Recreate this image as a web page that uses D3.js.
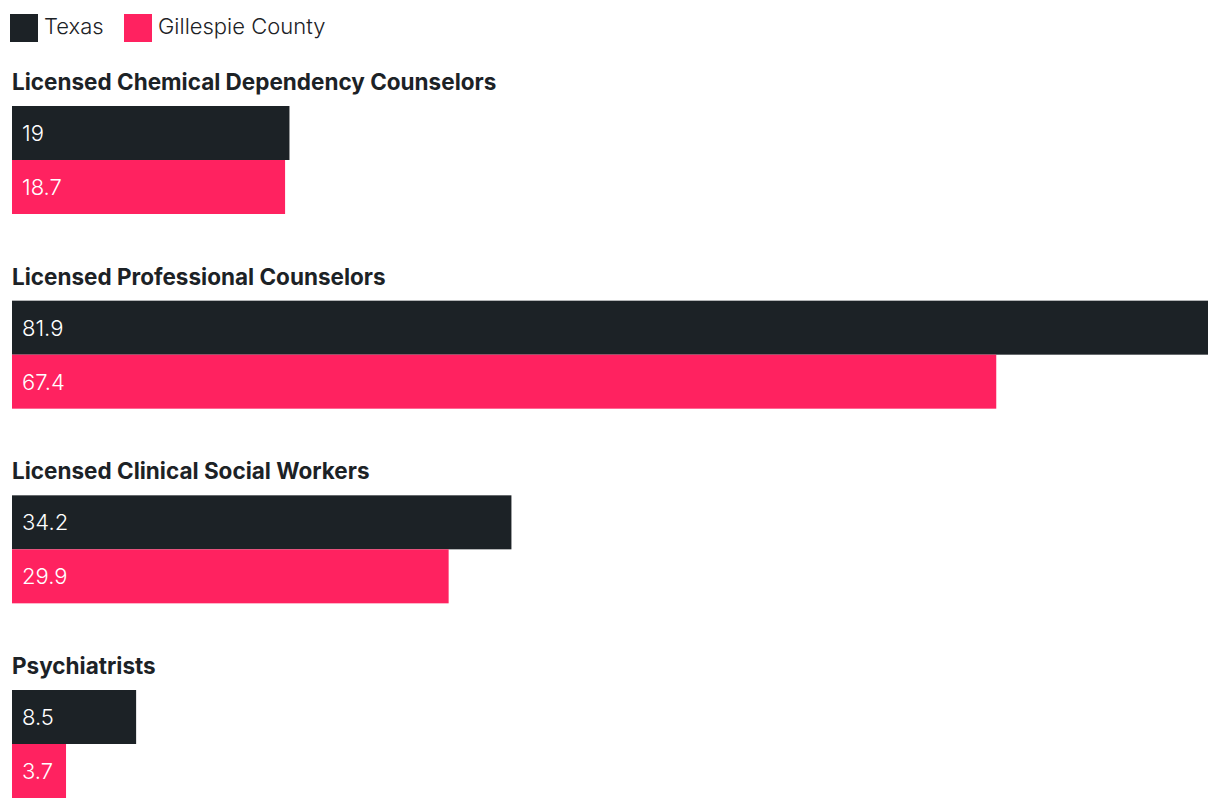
<!DOCTYPE html>
<html>
<head>
<meta charset="utf-8">
<script src="https://cdn.jsdelivr.net/npm/d3@7"></script>
<style>
  html, body { margin: 0; padding: 0; background: #ffffff; }
  svg { display: block; font-family: Inter, "Noto Sans", sans-serif; }
</style>
</head>
<body>
<svg id="chart" width="1220" height="808"></svg>
<script>
const categories = [
  "Licensed Chemical Dependency Counselors",
  "Licensed Professional Counselors",
  "Licensed Clinical Social Workers",
  "Psychiatrists"
];
const seriesNames = ["Texas", "Gillespie County"];
const texasValues = [19, 81.9, 34.2, 8.5];
const gillespieValues = [18.7, 67.4, 29.9, 3.7];
const colors = ["#1c2226", "#ff2260"];

const svg = d3.select("#chart");
const seriesValues = [texasValues, gillespieValues];

const x = d3.scaleLinear().domain([0, d3.max(texasValues.concat(gillespieValues))]).range([12, 1208]);
const gy = d3.scalePoint().domain(categories).range([106, 690]);
const by = d3.scaleBand().domain(seriesNames).range([0, 108]).padding(0);

// legend
const legend = svg.append("g");
const legendX = [10, 124];
seriesNames.forEach((name, i) => {
  const g = legend.append("g").attr("transform", `translate(${legendX[i]},14)`);
  g.append("rect").attr("width", 28).attr("height", 28).attr("fill", colors[i]);
  g.append("text").attr("x", 34).attr("y", 11.5).attr("dominant-baseline", "central")
    .attr("font-size", 22).attr("font-weight", 300).attr("fill", "#1c2226").text(name);
});

const groups = svg.selectAll("g.grp").data(categories).join("g")
  .attr("class", "grp")
  .attr("transform", d => `translate(0,${gy(d)})`);

groups.append("text")
  .attr("x", 12).attr("y", -16)
  .attr("font-size", 22.5).attr("font-weight", 700).attr("fill", "#1c2226")
  .text(d => d);

groups.each(function(cat, ci) {
  const g = d3.select(this);
  const rows = seriesNames.map((s, si) => ({ s, si, v: seriesValues[si][ci] }));
  g.selectAll("rect.bar").data(rows).join("rect")
    .attr("class", "bar")
    .attr("x", x(0))
    .attr("y", d => by(d.s))
    .attr("width", d => x(d.v) - x(0))
    .attr("height", by.bandwidth())
    .attr("fill", d => colors[d.si]);
  g.selectAll("text.val").data(rows).join("text")
    .attr("class", "val")
    .attr("x", x(0) + 10)
    .attr("y", d => by(d.s) + by.bandwidth() / 2)
    .attr("dominant-baseline", "central")
    .attr("font-size", 22).attr("font-weight", 300).attr("fill", "#ffffff")
    .text(d => d.v);
});
</script>
</body>
</html>
